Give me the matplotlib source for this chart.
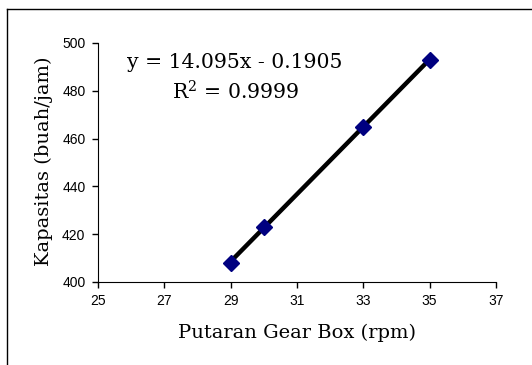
import matplotlib
matplotlib.use('Agg')
import matplotlib.pyplot as plt
from matplotlib.lines import Line2D
import numpy as np

# data
putaran = [29, 30, 33, 35]
kapasitas = [408, 423, 465, 493]
slope = 14.095
intercept = -0.1905
xticks = [25, 27, 29, 31, 33, 35, 37]
yticks = [400, 420, 440, 460, 480, 500]

fig = plt.figure(figsize=(5.32, 3.65), dpi=100)
ax = fig.add_axes([0.1842, 0.2274, 0.7481, 0.6548])

# garis trend
xt = np.array([min(putaran), max(putaran)])
ax.plot(xt, slope * xt + intercept, color='black', lw=3.2, solid_capstyle='butt', zorder=2)
ax.plot(putaran, kapasitas, linestyle='none', marker='D', markersize=8,
        color='#000080', markeredgecolor='#000080', zorder=3)

ax.set_xlim(25, 37)
ax.set_ylim(400, 500)
ax.set_xticks(xticks)
ax.set_yticks(yticks)
ax.tick_params(direction='out', length=4, width=1, labelsize=10, pad=5)
for lbl in ax.get_xticklabels() + ax.get_yticklabels():
    lbl.set_family('Liberation Sans')
ax.spines['top'].set_visible(False)
ax.spines['right'].set_visible(False)

serif = 'DejaVu Serif'
# label sumbu
fig.text(297/532, 1 - 333/365, 'Putaran Gear Box (rpm)', family=serif, fontsize=14,
         ha='center', va='center')
fig.text(44/532, 1 - 161/365, 'Kapasitas (buah/jam)', family=serif, fontsize=14,
         ha='center', va='center', rotation=90)

fig.text(235/532, 1 - 62/365, 'y = 14.095x - 0.1905', family=serif, fontsize=14.7,
         ha='center', va='center')
fig.text(236/532, 1 - 92/365, 'R$^2$ = 0.9999', family=serif, fontsize=14.7,
         ha='center', va='center', math_fontfamily='dejavuserif')

# bingkai luar (kiri dan atas)
fig.add_artist(Line2D([7/532, 7/532], [0, 1 - 8.5/365], transform=fig.transFigure, color='black', lw=1))
fig.add_artist(Line2D([7/532, 1], [1 - 8.5/365, 1 - 8.5/365], transform=fig.transFigure, color='black', lw=1))

fig.savefig('out.png', dpi=100)
